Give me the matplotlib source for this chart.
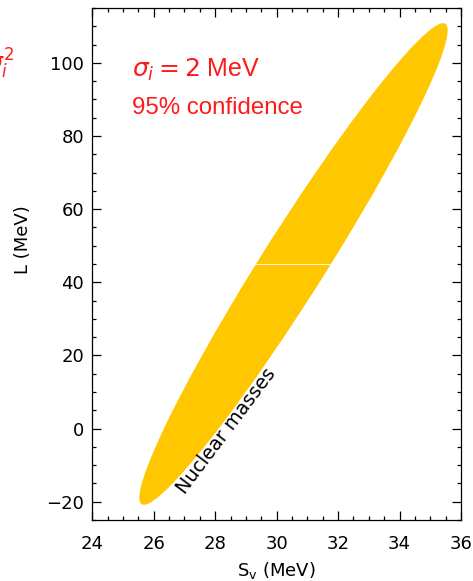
"""Nuclear-mass constraint on the symmetry energy S_v and its slope L."""

import numpy as np
import matplotlib

matplotlib.use("Agg")
import matplotlib.pyplot as plt
from matplotlib.patches import Ellipse
from matplotlib.ticker import MultipleLocator


# fitted parameters of the mass-model constraint (MeV)
SV_CENTER = 30.55
L_CENTER = 45.0
SV_SIGMA = 2.05
L_SIGMA = 26.9
SV_L_CORR = 0.97
CHI2_95 = 5.991  # 2 dof, 95 %

SIGMA_I_LABEL = r"$\sigma_i = 2$ MeV"
CONF_LABEL = "95% confidence"
BAND_LABEL = "Nuclear masses"

XLIM = (24, 36)
YLIM = (-25, 115)

GOLD = "#ffc700"
RED = "#ff1a1a"


def confidence_ellipse(cx, cy, sx, sy, rho, chi2, **kw):
    cov = np.array([[sx * sx, rho * sx * sy], [rho * sx * sy, sy * sy]])
    vals, vecs = np.linalg.eigh(cov * chi2)
    order = vals.argsort()[::-1]
    vals, vecs = vals[order], vecs[:, order]
    angle = np.degrees(np.arctan2(vecs[1, 0], vecs[0, 0]))
    return Ellipse(
        (cx, cy),
        width=2 * np.sqrt(vals[0]),
        height=2 * np.sqrt(vals[1]),
        angle=angle,
        **kw,
    )


plt.rcParams.update({"font.family": "DejaVu Sans", "font.size": 13})

fig = plt.figure(figsize=(4.73, 5.81), dpi=100)
ax = fig.add_axes([0.195, 0.105, 0.7796, 0.8813])

ell = confidence_ellipse(
    SV_CENTER, L_CENTER, SV_SIGMA, L_SIGMA, SV_L_CORR, CHI2_95,
    facecolor=GOLD, edgecolor="none", zorder=2,
)
ax.add_patch(ell)
# seam between the two halves of the filled contour
seam = ax.axhline(L_CENTER, color="white", lw=0.7, alpha=0.85, zorder=3)
seam.set_clip_path(ell)

ax.set_xlim(*XLIM)
ax.set_ylim(*YLIM)
ax.xaxis.set_major_locator(MultipleLocator(2))
ax.xaxis.set_minor_locator(MultipleLocator(0.5))
ax.yaxis.set_major_locator(MultipleLocator(20))
ax.yaxis.set_minor_locator(MultipleLocator(5))
ax.tick_params(which="both", direction="in", top=True, right=True, width=0.9)
ax.tick_params(which="major", length=6.5)
ax.tick_params(which="minor", length=3)
ax.tick_params(axis="x", which="major", pad=11, labelsize=13)
ax.tick_params(axis="y", which="major", pad=6, labelsize=13)
for sp in ax.spines.values():
    sp.set_linewidth(0.9)

ax.set_xlabel(r"S$_{\rm v}$ (MeV)", fontsize=13)
ax.set_ylabel("L (MeV)", fontsize=13)
ax.xaxis.set_label_coords(0.5, -0.079)
ax.yaxis.set_label_coords(-0.163, 0.547)

ax.text(25.29, 96.3, SIGMA_I_LABEL, color=RED, fontsize=18,
        family="Liberation Sans", va="baseline", ha="left")
ax.text(25.29, 86.1, CONF_LABEL, color=RED, fontsize=17.3,
        family="Liberation Sans", va="baseline", ha="left")
ax.text(28.35, -0.8, BAND_LABEL, rotation=53, rotation_mode="anchor",
        ha="center", va="center", fontsize=13.8, color="black")

# label from the neighbouring panel, cut by the figure edge
fig.text(14 / 473, 1 - 72 / 581, r"$\sigma_i^2$", color=RED, fontsize=17,
         ha="right", va="baseline")

fig.savefig("out.png", dpi=100)
